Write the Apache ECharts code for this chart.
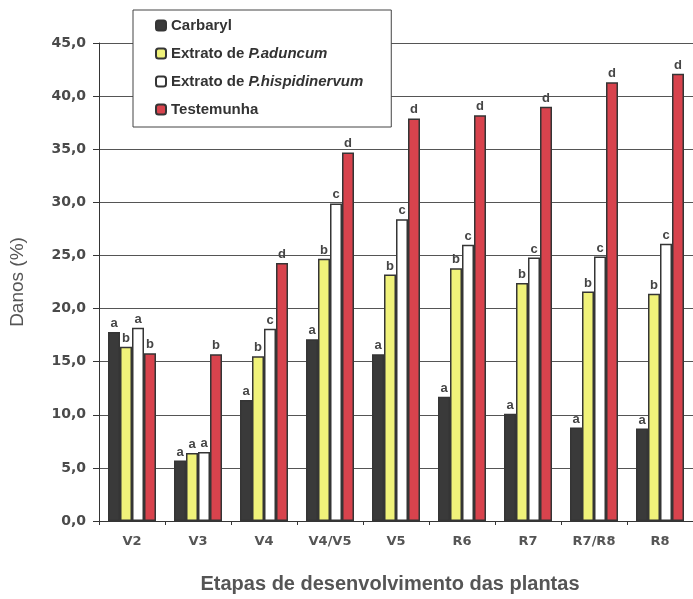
<!DOCTYPE html>
<html>
<head>
<meta charset="utf-8">
<script src="https://cdn.jsdelivr.net/npm/echarts@6/dist/echarts.min.js"></script>
<style>
  html, body { margin: 0; padding: 0; background: #fff; }
  #main { width: 693px; height: 599px; }
</style>
</head>
<body>
<div id="main"></div>
<script>
// etapas de desenvolvimento
const stages = ['V2', 'V3', 'V4', 'V4/V5', 'V5', 'R6', 'R7', 'R7/R8', 'R8'];

// danos (%)
const carbaryl    = [17.8, 5.7, 11.4, 17.1, 15.7, 11.7, 10.1, 8.8, 8.7];
const aduncum     = [16.4, 6.4, 15.5, 24.7, 23.2, 23.8, 22.4, 21.6, 21.4];
const hispidinerv = [18.2, 6.5, 18.1, 29.9, 28.4, 26.0, 24.8, 24.9, 26.1];
const testemunha  = [15.8, 15.7, 24.3, 34.7, 37.9, 38.2, 39.0, 41.3, 42.1];

// letras de significância
const letCarbaryl = ['a', 'a', 'a', 'a', 'a', 'a', 'a', 'a', 'a'];
const letAduncum  = ['b', 'a', 'b', 'b', 'b', 'b', 'b', 'b', 'b'];
const letHisp     = ['a', 'a', 'c', 'c', 'c', 'c', 'c', 'c', 'c'];
const letTest     = ['b', 'b', 'd', 'd', 'd', 'd', 'd', 'd', 'd'];

const yTicks = [0, 5, 10, 15, 20, 25, 30, 35, 40, 45];

const txt = '#454545';
const edge = '#353535';
const font = 'Liberation Sans';
const wide = 'DejaVu Sans';

function mkSeries(name, values, letters, color) {
  return {
    name: name,
    type: 'bar',
    barWidth: 12,
    barGap: '0%',
    data: values,
    itemStyle: { color: color, borderColor: edge, borderWidth: 1.5 },
    label: {
      show: true,
      position: 'top',
      distance: 2,
      color: txt,
      fontFamily: font,
      fontWeight: 'bold',
      fontSize: 13,
      formatter: p => letters[p.dataIndex]
    }
  };
}

var myChart = echarts.init(document.getElementById('main'));
myChart.setOption({
  backgroundColor: '#fff',
  animation: false,
  grid: { left: 97, top: 43, bottom: 70, right: -12, containLabel: false },
  legend: {
    orient: 'vertical',
    left: 133,
    top: 10,
    padding: [8, 28, 10, 22],
    itemGap: 13,
    itemWidth: 10,
    itemHeight: 10,
    backgroundColor: '#fff',
    borderColor: '#444',
    borderWidth: 1,
    borderRadius: 0,
    z: 10,
    textStyle: {
      color: '#333',
      fontFamily: font,
      fontWeight: 'bold',
      fontSize: 15,
      rich: {
        i: { fontStyle: 'italic', fontWeight: 'bold', fontSize: 15, fontFamily: font, color: '#333' }
      }
    },
    formatter: name => name.replace(/(P\.\w+)/, '{i|$1}'),
    data: ['Carbaryl', 'Extrato de P.aduncum', 'Extrato de P.hispidinervum', 'Testemunha']
  },
  xAxis: {
    type: 'category',
    data: stages,
    name: 'Etapas de desenvolvimento das plantas',
    nameLocation: 'middle',
    nameGap: 53,
    nameTextStyle: { color: '#555', fontFamily: font, fontWeight: 'bold', fontSize: 20, padding: [0, 12, 0, 0] },
    axisLine: { lineStyle: { color: edge, width: 1 } },
    axisTick: { show: true, length: 4, lineStyle: { color: edge } },
    axisLabel: { color: '#555', fontFamily: wide, fontWeight: 'bold', fontSize: 13, margin: 14 }
  },
  yAxis: {
    type: 'value',
    min: 0,
    max: 45,
    interval: 5,
    name: 'Danos (%)',
    nameLocation: 'middle',
    nameGap: 72,
    nameTextStyle: { color: '#555', fontFamily: font, fontSize: 19 },
    axisLine: { show: true, lineStyle: { color: edge, width: 1 } },
    axisTick: { show: true, length: 6, lineStyle: { color: edge } },
    axisLabel: {
      color: '#4a4a4a', fontFamily: wide, fontWeight: 'bold', fontSize: 14, margin: 13,
      formatter: v => yTicks.includes(v) ? v.toFixed(1).replace('.', ',') : ''
    },
    splitLine: { show: true, lineStyle: { color: '#555', width: 1 } }
  },
  series: [
    mkSeries('Carbaryl', carbaryl, letCarbaryl, '#3a3a3a'),
    mkSeries('Extrato de P.aduncum', aduncum, letAduncum, '#f0f27a'),
    mkSeries('Extrato de P.hispidinervum', hispidinerv, letHisp, '#ffffff'),
    mkSeries('Testemunha', testemunha, letTest, '#d8434d')
  ]
});
</script>
</body>
</html>
